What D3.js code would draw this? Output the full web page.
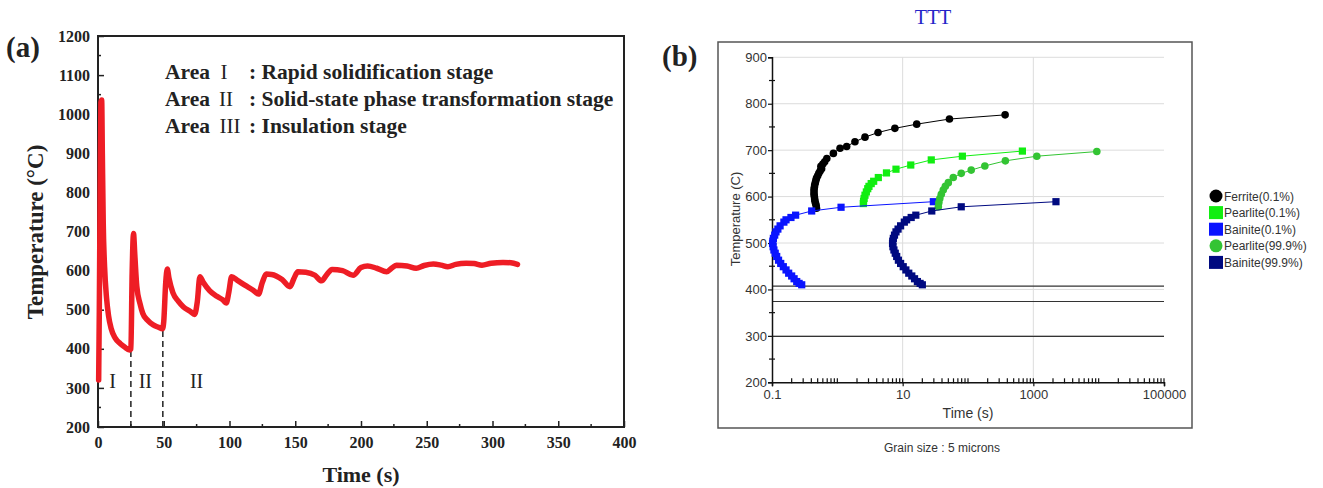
<!DOCTYPE html>
<html>
<head>
<meta charset="utf-8">
<script src="https://cdn.jsdelivr.net/npm/d3@7"></script>
<style>
  body { margin: 0; background: #fff; }
  svg { display: block; }
</style>
</head>
<body>
<div id="chart"></div>
<script>
// ---- panel (a): thermal cycle ----
var timeA = [0.5, 1.0, 1.6, 2.2, 2.8, 3.3, 4.0, 5.0, 6.5, 8, 10, 13, 17, 20, 24,
  25, 26, 27, 28, 29.5, 32, 34, 38, 42, 46, 49,
  50, 51.5, 52.7, 54, 57, 61, 65, 70, 73.5,
  75.5, 77.5, 80, 85, 90, 95, 97.5,
  99.5, 101.6, 106, 112, 118, 122,
  125, 128, 132, 140, 146,
  149, 152, 158, 165, 170,
  174, 178, 186, 194,
  200, 205, 212, 219.5, 224, 227, 235, 242, 248, 255, 261, 266,
  272, 280, 286, 292, 299, 308, 314, 319];
var tempA = [320, 500, 800, 1030, 1036, 900, 720, 610, 530, 485, 452, 428, 413, 405, 397,
  400, 600, 695, 640, 560, 515, 491, 472, 461, 455, 451,
  470, 570, 604, 580, 543, 522, 507, 496, 488,
  520, 584, 570, 548, 535, 525, 517,
  545, 584, 575, 562, 550, 540,
  570, 591, 590, 577, 559,
  580, 597, 596, 588, 574,
  590, 603, 600, 588,
  608, 612, 606, 597, 608, 614, 612, 606, 613, 617, 614, 610,
  616, 619, 618, 614, 619, 621, 620, 616];
var yTicksA = d3.range(200, 1201, 100);
var xTicksA = d3.range(0, 401, 50);
var stageBounds = [{t: 25, temp: 397}, {t: 49.3, temp: 453}];
var stageMarks = [{t: 11, label: "I"}, {t: 36, label: "II"}, {t: 75, label: "II"}];
var areaNames = ["I", "II", "III"];
var areaTexts = [": Rapid solidification stage", ": Solid-state phase transformation stage", ": Insulation stage"];

// ---- panel (b): TTT diagram ----
var ferriteTemp = [575, 580, 585, 590, 595, 600, 605, 610, 615, 620, 625, 630, 635, 640, 645, 650, 655, 660, 665, 670, 675, 682, 693, 704, 708, 718, 728, 738, 747, 756, 767, 776];
var ferriteTime = [0.48, 0.475, 0.465, 0.455, 0.45, 0.445, 0.44, 0.44, 0.44, 0.445, 0.45, 0.46, 0.47, 0.48, 0.5, 0.52, 0.545, 0.575, 0.56, 0.6, 0.64, 0.69, 0.87, 1.1, 1.39, 1.86, 2.65, 4.2, 7.6, 16.4, 52, 370];
var pearlite1Temp = [585, 590, 596, 603, 610, 617, 622, 628, 633, 641, 651, 659, 668, 679, 687, 698];
var pearlite1Time = [2.5, 2.52, 2.57, 2.65, 2.78, 2.92, 3.05, 3.3, 3.6, 4.24, 5.65, 7.9, 13.3, 27.4, 82, 680];
var bainite1Temp = [589, 577, 569, 560, 555, 550, 545, 537, 530, 524, 517, 510, 504, 499, 492, 485, 478, 471, 463, 456, 449, 442, 435, 429, 423, 417, 413, 410];
var bainite1Time = [29.5, 1.14, 0.405, 0.23, 0.195, 0.164, 0.152, 0.133, 0.123, 0.115, 0.11, 0.105, 0.103, 0.102, 0.104, 0.107, 0.112, 0.118, 0.126, 0.136, 0.149, 0.164, 0.18, 0.2, 0.218, 0.239, 0.26, 0.285];
var pearlite2Temp = [578, 587, 596, 605, 614, 622, 630, 641, 650, 657, 666, 677, 687, 697];
var pearlite2Time = [35.2, 35.8, 37, 39, 41.8, 45, 50, 59.5, 78.8, 112, 181, 373, 1130, 9370];
var bainite2Temp = [589, 578, 569, 560, 555, 550, 545, 537, 530, 524, 517, 510, 504, 499, 492, 485, 478, 471, 463, 456, 449, 442, 435, 429, 423, 417, 413, 410];
var bainite2Time = [2220, 78.8, 27.9, 15.9, 13.5, 11.5, 10.6, 9.3, 8.5, 7.9, 7.5, 7.2, 7.05, 7.0, 7.1, 7.35, 7.7, 8.1, 8.6, 9.3, 10.2, 11.2, 12.4, 13.8, 15.2, 16.8, 18.5, 20];
var transTemps = [407, 374, 299];
var yTicksB = d3.range(200, 901, 100);
var xTicksB = [0.1, 10, 1000, 100000];

var seriesB = [
  {name: "Ferrite(0.1%)", time: ferriteTime, temp: ferriteTemp, color: "#000000", shape: "circle"},
  {name: "Pearlite(0.1%)", time: pearlite1Time, temp: pearlite1Temp, color: "#11ee11", shape: "square"},
  {name: "Bainite(0.1%)", time: bainite1Time, temp: bainite1Temp, color: "#0a14ff", shape: "square"},
  {name: "Pearlite(99.9%)", time: pearlite2Time, temp: pearlite2Temp, color: "#33c433", shape: "circle"},
  {name: "Bainite(99.9%)", time: bainite2Time, temp: bainite2Temp, color: "#000a80", shape: "square"}
];

var svg = d3.select("#chart").append("svg")
  .attr("width", 1323)
  .attr("height", 488);

// ================= (a) =================
var serif = "'Liberation Serif', 'Times New Roman', serif";
var xA = d3.scaleLinear().domain([0, 400]).range([98, 624]);
var yA = d3.scaleLinear().domain([200, 1200]).range([427, 36]);

var gA = svg.append("g").attr("font-family", serif);

gA.append("rect")
  .attr("x", xA(0)).attr("y", yA(1200))
  .attr("width", xA(400) - xA(0)).attr("height", yA(200) - yA(1200))
  .attr("fill", "none").attr("stroke", "#222").attr("stroke-width", 2);

var leftAxisA = d3.axisLeft(yA).tickValues(yTicksA).tickFormat(d3.format("d"))
  .tickSizeInner(-6).tickSizeOuter(0).tickPadding(8);
var bottomAxisA = d3.axisBottom(xA).tickValues(xTicksA).tickFormat(d3.format("d"))
  .tickSizeInner(-6).tickSizeOuter(0).tickPadding(10);

gA.append("g").attr("transform", "translate(" + xA(0) + ",0)").call(leftAxisA);
gA.append("g").attr("transform", "translate(0," + yA(200) + ")").call(bottomAxisA);
gA.selectAll(".domain").remove();
gA.selectAll(".tick line").attr("stroke", "#222").attr("stroke-width", 1.5);
gA.selectAll(".tick text")
  .attr("font-family", serif).attr("font-size", 16).attr("font-weight", "bold").attr("fill", "#222");

// minor ticks
gA.append("g").selectAll("line").data(d3.range(250, 1200, 100)).enter().append("line")
  .attr("x1", xA(0)).attr("x2", xA(0) + 3)
  .attr("y1", d => yA(d)).attr("y2", d => yA(d))
  .attr("stroke", "#222").attr("stroke-width", 1.5);
gA.append("g").selectAll("line").data(d3.range(25, 400, 50)).enter().append("line")
  .attr("x1", d => xA(d)).attr("x2", d => xA(d))
  .attr("y1", yA(200)).attr("y2", yA(200) - 3)
  .attr("stroke", "#222").attr("stroke-width", 1.5);

// stage boundaries
gA.selectAll(".bound").data(stageBounds).enter().append("line")
  .attr("class", "bound")
  .attr("x1", d => xA(d.t)).attr("x2", d => xA(d.t))
  .attr("y1", yA(200)).attr("y2", d => yA(d.temp))
  .attr("stroke", "#222").attr("stroke-width", 1.5)
  .attr("stroke-dasharray", "6,4");

gA.selectAll(".stage").data(stageMarks).enter().append("text")
  .attr("class", "stage")
  .attr("x", d => xA(d.t)).attr("y", yA(300) + 0)
  .attr("text-anchor", "middle")
  .attr("font-size", 20).attr("fill", "#222")
  .text(d => d.label);

// curve
var lineA = d3.line().x((d, i) => xA(timeA[i])).y(d => yA(d)).curve(d3.curveMonotoneX);
gA.append("path")
  .attr("d", lineA(tempA))
  .attr("fill", "none").attr("stroke", "#ee1d25")
  .attr("stroke-width", 5.5).attr("stroke-linejoin", "round").attr("stroke-linecap", "round");

// area descriptions
var numX = [224, 226, 230];
areaNames.forEach(function(n, i) {
  var y = 79 + i * 27;
  gA.append("text").attr("x", 165).attr("y", y)
    .attr("font-size", 21.5).attr("font-weight", "bold").attr("fill", "#222").text("Area");
  gA.append("text").attr("x", numX[i]).attr("y", y).attr("text-anchor", "middle")
    .attr("font-size", 21).attr("fill", "#222").text(n);
  gA.append("text").attr("x", 249).attr("y", y)
    .attr("font-size", 21.5).attr("font-weight", "bold").attr("fill", "#222").text(areaTexts[i]);
});

gA.append("text")
  .attr("transform", "translate(43, 232) rotate(-90)")
  .attr("text-anchor", "middle")
  .attr("font-size", 23).attr("font-weight", "bold").attr("fill", "#222")
  .text("Temperature (°C)");

gA.append("text")
  .attr("x", 361).attr("y", 482)
  .attr("text-anchor", "middle")
  .attr("font-size", 22).attr("font-weight", "bold").attr("fill", "#222")
  .text("Time (s)");

gA.append("text")
  .attr("x", 6).attr("y", 57)
  .attr("font-size", 29).attr("font-weight", "bold").attr("fill", "#222")
  .text("(a)");

// ================= (b) =================
var sans = "'Liberation Sans', Arial, sans-serif";
var xB = d3.scaleLog().domain([0.1, 100000]).range([772, 1164]);
var yB = d3.scaleLinear().domain([200, 900]).range([382.3, 57.3]);

var gB = svg.append("g").attr("font-family", sans);

svg.append("text")
  .attr("x", 662).attr("y", 66)
  .attr("font-family", serif)
  .attr("font-size", 29).attr("font-weight", "bold").attr("fill", "#222")
  .text("(b)");

gB.append("text")
  .attr("x", 933).attr("y", 24)
  .attr("text-anchor", "middle")
  .attr("font-family", serif)
  .attr("font-size", 20).attr("fill", "#2424c8")
  .text("TTT");

gB.append("rect")
  .attr("x", 718).attr("y", 42)
  .attr("width", 474).attr("height", 386)
  .attr("fill", "none").attr("stroke", "#555").attr("stroke-width", 1.5);

// grid
gB.append("g").selectAll("line").data(yTicksB.slice(1)).enter().append("line")
  .attr("x1", xB(0.1)).attr("x2", xB(100000))
  .attr("y1", d => yB(d)).attr("y2", d => yB(d))
  .attr("stroke", "#dcdcdc").attr("stroke-width", 1);
gB.append("g").selectAll("line").data([10, 1000]).enter().append("line")
  .attr("x1", d => xB(d)).attr("x2", d => xB(d))
  .attr("y1", yB(900)).attr("y2", yB(200))
  .attr("stroke", "#dcdcdc").attr("stroke-width", 1);

// transformation start lines
gB.append("g").selectAll("line").data(transTemps).enter().append("line")
  .attr("x1", xB(0.1)).attr("x2", xB(100000))
  .attr("y1", d => yB(d)).attr("y2", d => yB(d))
  .attr("stroke", "#333").attr("stroke-width", 1.2);

// axes
var leftAxisB = d3.axisLeft(yB).tickValues(yTicksB).tickSize(4).tickPadding(1);
var bottomAxisB = d3.axisBottom(xB).tickValues(xTicksB).tickSize(4).tickPadding(3)
  .tickFormat(d => String(d));
gB.append("g").attr("transform", "translate(" + xB(0.1) + ",0)").call(leftAxisB);
gB.append("g").attr("transform", "translate(0," + yB(200) + ")").call(bottomAxisB);
gB.selectAll(".domain").attr("stroke", "#111").attr("stroke-width", 1.5);
gB.selectAll(".tick line").attr("stroke", "#111").attr("stroke-width", 1.2);
gB.selectAll(".tick text").attr("font-family", sans).attr("font-size", 13).attr("fill", "#333");

// minor ticks
gB.append("g").selectAll("line").data(d3.range(250, 900, 50).filter(d => d % 100 !== 0)).enter().append("line")
  .attr("x1", xB(0.1) - 3).attr("x2", xB(0.1) + 3)
  .attr("y1", d => yB(d)).attr("y2", d => yB(d))
  .attr("stroke", "#111").attr("stroke-width", 1.2);
gB.append("g").selectAll("line").data(xB.ticks().filter(d => d > 0.1 && d <= 100000)).enter().append("line")
  .attr("x1", d => xB(d)).attr("x2", d => xB(d))
  .attr("y1", yB(200) - 4).attr("y2", yB(200) + 1)
  .attr("stroke", "#111").attr("stroke-width", 1.2);

// series
var lineB = d3.line().x(d => xB(d[0])).y(d => yB(d[1]));
seriesB.forEach(function(s) {
  var pts = s.time.map((t, i) => [t, s.temp[i]]);
  var g = gB.append("g");
  g.append("path").attr("d", lineB(pts))
    .attr("fill", "none").attr("stroke", s.color).attr("stroke-width", 1);
  if (s.shape === "circle") {
    g.selectAll("circle").data(pts).enter().append("circle")
      .attr("cx", d => xB(d[0])).attr("cy", d => yB(d[1]))
      .attr("r", 3.8).attr("fill", s.color);
  } else {
    g.selectAll("rect").data(pts).enter().append("rect")
      .attr("x", d => xB(d[0]) - 3.6).attr("y", d => yB(d[1]) - 3.6)
      .attr("width", 7.2).attr("height", 7.2).attr("fill", s.color);
  }
});

gB.append("text")
  .attr("transform", "translate(740, 219) rotate(-90)")
  .attr("text-anchor", "middle")
  .attr("font-size", 13).attr("fill", "#333")
  .text("Temperature (C)");

gB.append("text")
  .attr("x", 968).attr("y", 418)
  .attr("text-anchor", "middle")
  .attr("font-size", 14).attr("fill", "#333")
  .text("Time (s)");

gB.append("text")
  .attr("x", 942).attr("y", 452)
  .attr("text-anchor", "middle")
  .attr("font-size", 12).attr("fill", "#333")
  .text("Grain size : 5 microns");

// legend
var legend = gB.append("g").selectAll("g").data(seriesB).enter().append("g")
  .attr("transform", (d, i) => "translate(1216," + (196 + i * 16.6) + ")");
legend.each(function(d) {
  var el = d3.select(this);
  if (d.shape === "circle") {
    el.append("circle").attr("r", 6.5).attr("fill", d.color);
  } else {
    el.append("rect").attr("x", -7).attr("y", -6.5).attr("width", 14).attr("height", 13).attr("fill", d.color);
  }
});
legend.append("text")
  .attr("x", 8).attr("y", 4.5)
  .attr("font-size", 12).attr("fill", "#333")
  .text(d => d.name);
</script>
</body>
</html>
